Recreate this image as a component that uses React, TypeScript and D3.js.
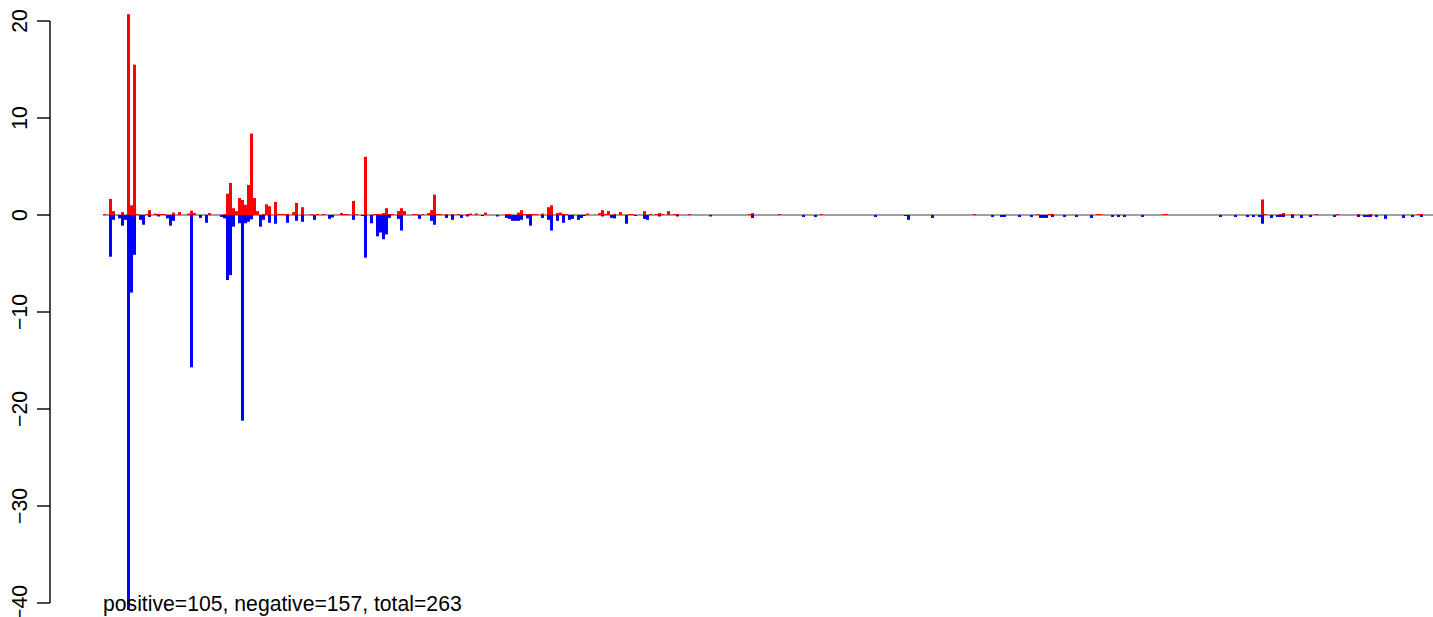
import React from "react";
import * as d3 from "d3";

// Positive series (red): slot position and value
const posSlots = [0, 2, 3, 6, 8, 9, 10, 11, 14, 15, 17, 18, 19, 20, 23, 25, 28, 29, 30, 35, 40, 41, 42, 43, 44, 45, 46, 47, 48, 49, 50, 51, 53, 54, 55, 57, 58, 59, 60, 61, 63, 64, 66, 69, 71, 73, 79, 80, 81, 83, 84, 87, 90, 91, 92, 93, 94, 95, 96, 98, 99, 100, 103, 104, 106, 108, 109, 110, 111, 112, 114, 116, 118, 121, 122, 124, 127, 134, 135, 138, 139, 140, 141, 142, 143, 144, 146, 148, 149, 151, 152, 153, 154, 161, 165, 166, 167, 168, 170, 172, 175, 176, 180, 182, 184, 185, 186, 188, 190, 191, 195, 215, 216, 225, 239, 290, 311, 315, 316, 331, 332, 353, 354, 386, 387, 392, 393, 396, 404, 411, 418, 422, 438, 439];
const posValues = [0.1, 1.65, 0.4, 0.3, 20.7, 1.0, 15.5, 0.1, 0.1, 0.5, 0.15, 0.1, 0.1, 0.1, 0.25, 0.3, 0.15, 0.45, 0.2, 0.2, 0.1, 2.2, 3.3, 0.7, 0.4, 1.75, 1.55, 1.05, 3.1, 8.4, 1.75, 0.4, 0.1, 1.1, 0.9, 1.35, 0.1, 0.1, 0.1, 0.1, 0.3, 1.25, 0.8, 0.1, 0.1, 0.1, 0.2, 0.1, 0.1, 1.45, 0.1, 6.0, 0.1, 0.1, 0.1, 0.2, 0.7, 0.1, 0.1, 0.4, 0.7, 0.4, 0.1, 0.1, 0.1, 0.2, 0.5, 2.1, 0.1, 0.1, 0.1, 0.1, 0.1, 0.1, 0.15, 0.15, 0.25, 0.1, 0.1, 0.25, 0.5, 0.1, 0.1, 0.1, 0.1, 0.1, 0.15, 0.8, 1.0, 0.2, 0.25, 0.1, 0.1, 0.15, 0.2, 0.5, 0.1, 0.4, 0.1, 0.3, 0.1, 0.1, 0.4, 0.1, 0.1, 0.2, 0.1, 0.4, 0.1, 0.1, 0.1, 0.1, 0.2, 0.1, 0.1, 0.1, 0.1, 0.1, 0.1, 0.1, 0.1, 0.1, 0.1, 1.6, 0.1, 0.1, 0.2, 0.1, 0.1, 0.1, 0.1, 0.1, 0.1, 0.1];

// Negative series (blue): slot position and value
const negSlots = [2, 3, 5, 6, 7, 8, 9, 10, 12, 13, 15, 18, 21, 22, 23, 29, 32, 34, 39, 40, 41, 42, 43, 45, 46, 47, 48, 49, 52, 53, 55, 57, 61, 64, 66, 70, 75, 76, 83, 86, 87, 89, 91, 92, 93, 94, 95, 98, 99, 105, 109, 110, 114, 116, 119, 121, 126, 131, 134, 135, 136, 137, 138, 139, 141, 142, 146, 148, 149, 151, 153, 155, 156, 158, 159, 160, 166, 169, 170, 174, 177, 180, 181, 185, 191, 202, 216, 233, 237, 257, 267, 268, 276, 296, 299, 300, 305, 309, 312, 313, 314, 316, 320, 324, 329, 336, 338, 340, 346, 372, 377, 381, 383, 385, 386, 389, 391, 392, 393, 396, 399, 402, 410, 418, 420, 421, 422, 424, 427, 433, 436, 439];
const negValues = [-4.3, -0.5, -0.35, -1.1, -0.5, -40.7, -8.0, -4.1, -0.5, -1.0, -0.2, -0.15, -0.35, -1.1, -0.6, -15.7, -0.3, -0.8, -0.2, -0.35, -6.7, -6.2, -1.2, -0.85, -21.2, -0.85, -0.7, -0.45, -1.2, -0.5, -0.8, -0.9, -0.8, -0.6, -0.7, -0.5, -0.4, -0.25, -0.5, -0.1, -4.4, -0.85, -2.2, -1.8, -2.5, -2.0, -0.3, -0.4, -1.6, -0.4, -0.6, -1.0, -0.3, -0.5, -0.3, -0.15, -0.1, -0.15, -0.3, -0.4, -0.6, -0.6, -0.6, -0.5, -0.35, -1.1, -0.3, -0.5, -1.6, -0.6, -0.8, -0.5, -0.4, -0.5, -0.3, -0.1, -0.15, -0.3, -0.35, -0.9, -0.1, -0.4, -0.5, -0.15, -0.15, -0.15, -0.3, -0.2, -0.2, -0.2, -0.1, -0.5, -0.3, -0.2, -0.2, -0.2, -0.2, -0.2, -0.3, -0.3, -0.3, -0.2, -0.2, -0.2, -0.3, -0.2, -0.2, -0.2, -0.2, -0.2, -0.2, -0.2, -0.2, -0.2, -0.9, -0.3, -0.2, -0.2, -0.2, -0.3, -0.3, -0.2, -0.2, -0.2, -0.2, -0.2, -0.2, -0.2, -0.4, -0.3, -0.2, -0.2];

const yTicks = [-40, -30, -20, -10, 0, 10, 20];
const summaryLabel = "positive=105, negative=157, total=263";
const slotCount = 443;

const W = 1433;
const H = 617;
const FONT = "'Liberation Sans', Arial, Helvetica, sans-serif";

export default function App() {
  const x = d3.scaleLinear().domain([0, slotCount]).range([103, 1432]);
  const y = d3.scaleLinear().domain([-40, 20]).range([603, 21]);
  const axisX = 50;

  const bar = (s: number, v: number, color: string, key: string) => {
    const x0 = x(s);
    const w = x(s + 1) - x(s);
    const yTop = y(Math.max(v, 0));
    const yBot = y(Math.min(v, 0));
    return <rect key={key} x={x0} y={yTop} width={w} height={Math.max(yBot - yTop, 0.6)} fill={color} />;
  };

  const fmt = (t: number) => (t < 0 ? "\u2212" + Math.abs(t) : String(t));

  return (
    <svg width={W} height={H} style={{ position: "absolute", left: 0, top: 0, background: "#fff" }} fontFamily={FONT}>
      <line x1={x(0)} x2={W} y1={y(0)} y2={y(0)} stroke="#a0a0a0" strokeWidth={2} />
      {posSlots.map((s, i) => bar(s, posValues[i], "#ff0000", "p" + i))}
      {negSlots.map((s, i) => bar(s, negValues[i], "#0000ff", "n" + i))}
      <line x1={axisX} x2={axisX} y1={y(20)} y2={y(-40)} stroke="#000" strokeWidth={1.4} />
      {yTicks.map((t) => (
        <g key={t}>
          <line x1={axisX - 13} x2={axisX} y1={y(t)} y2={y(t)} stroke="#000" strokeWidth={1.4} />
          <text
            transform={`translate(27,${y(t)}) rotate(-90)`}
            textAnchor="middle"
            fontSize={21.2}
            fill="#000"
          >
            {fmt(t)}
          </text>
        </g>
      ))}
      <text x={103} y={611} fontSize={21.2} fill="#000">
        {summaryLabel}
      </text>
    </svg>
  );
}
